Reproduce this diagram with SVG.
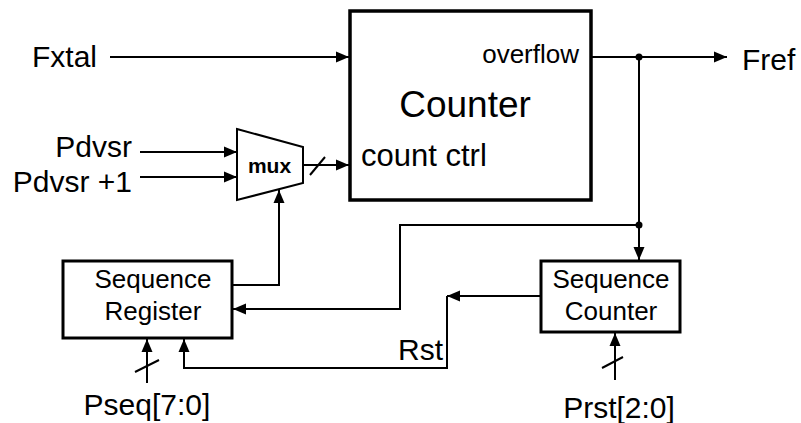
<svg xmlns="http://www.w3.org/2000/svg" width="801" height="423" viewBox="0 0 801 423">
<style>
text{font-family:"Liberation Sans",Arial,Helvetica,sans-serif;fill:#000}
.box{fill:#fff;stroke:#000;stroke-width:3}
.w{fill:none;stroke:#000;stroke-width:2}
.lbl{font-size:30px}
.sm{font-size:26px;text-anchor:middle}
.end{text-anchor:end}
.mid{text-anchor:middle}
</style>
<defs>
<marker id="ah" markerUnits="userSpaceOnUse" markerWidth="14" markerHeight="12" refX="13" refY="6" orient="auto">
<path d="M0,0.5 L13,6 L0,11.5 z" fill="#000"/>
</marker>
</defs>
<rect width="801" height="423" fill="#fff"/>

<g id="connectors">
<path class="w" d="M110,57 H349" marker-end="url(#ah)"/>
<path class="w" d="M591,57 H727" marker-end="url(#ah)"/>
<path class="w" d="M639,57 V260" marker-end="url(#ah)"/>
<path class="w" d="M639,225 H400 V309 H233" marker-end="url(#ah)"/>
<path class="w" d="M232,285 H279 V190" marker-end="url(#ah)"/>
<path class="w" d="M140,152 H237" marker-end="url(#ah)"/>
<path class="w" d="M140,177 H237" marker-end="url(#ah)"/>
<path class="w" d="M303,165 H349" marker-end="url(#ah)"/>
<path class="w" d="M310,175 L325,157"/>
<path class="w" d="M541,296 H447" marker-end="url(#ah)"/>
<path class="w" d="M447,296 V368 H184 V339" marker-end="url(#ah)"/>
<path class="w" d="M147,383 V339" marker-end="url(#ah)"/>
<path class="w" d="M135,372 L159,360"/>
<path class="w" d="M615,380 V333" marker-end="url(#ah)"/>
<path class="w" d="M602,368 L623,357"/>
<circle cx="639" cy="57" r="3.5" fill="#000"/>
<circle cx="639" cy="225" r="3.5" fill="#000"/>
</g>

<g id="counter">
<rect x="350" y="11" width="241" height="189" fill="#fff" stroke="#000" stroke-width="3.5"/>
<text x="465" y="117" class="mid" font-size="37">Counter</text>
<text x="579" y="63" class="end" font-size="26">overflow</text>
<text x="361" y="166" font-size="31">count ctrl</text>
</g>

<g id="mux">
<polygon points="237,129 303,147 303,183 237,200" fill="#fff" stroke="#000" stroke-width="2"/>
<text x="269.5" y="173" class="mid" font-size="21" font-weight="bold">mux</text>
</g>

<g id="seq-register">
<rect class="box" x="63" y="261" width="169" height="77"/>
<text x="153" y="288" class="sm">Sequence</text>
<text x="153" y="320" class="sm">Register</text>
</g>

<g id="seq-counter">
<rect class="box" x="541" y="261" width="139" height="71"/>
<text x="611" y="288" class="sm">Sequence</text>
<text x="611" y="320" class="sm">Counter</text>
</g>

<g id="fxtal"><text x="32" y="67" class="lbl">Fxtal</text></g>
<g id="pdvsr"><text x="132" y="157" class="lbl end">Pdvsr</text></g>
<g id="pdvsr1"><text x="132" y="192" class="lbl end">Pdvsr +1</text></g>
<g id="fref"><text x="742" y="70" class="lbl">Fref</text></g>
<g id="rst"><text x="443" y="360" class="lbl end">Rst</text></g>
<g id="pseq"><text x="147" y="415" class="lbl mid">Pseq[7:0]</text></g>
<g id="prst"><text x="619" y="418" class="lbl mid">Prst[2:0]</text></g>
</svg>
